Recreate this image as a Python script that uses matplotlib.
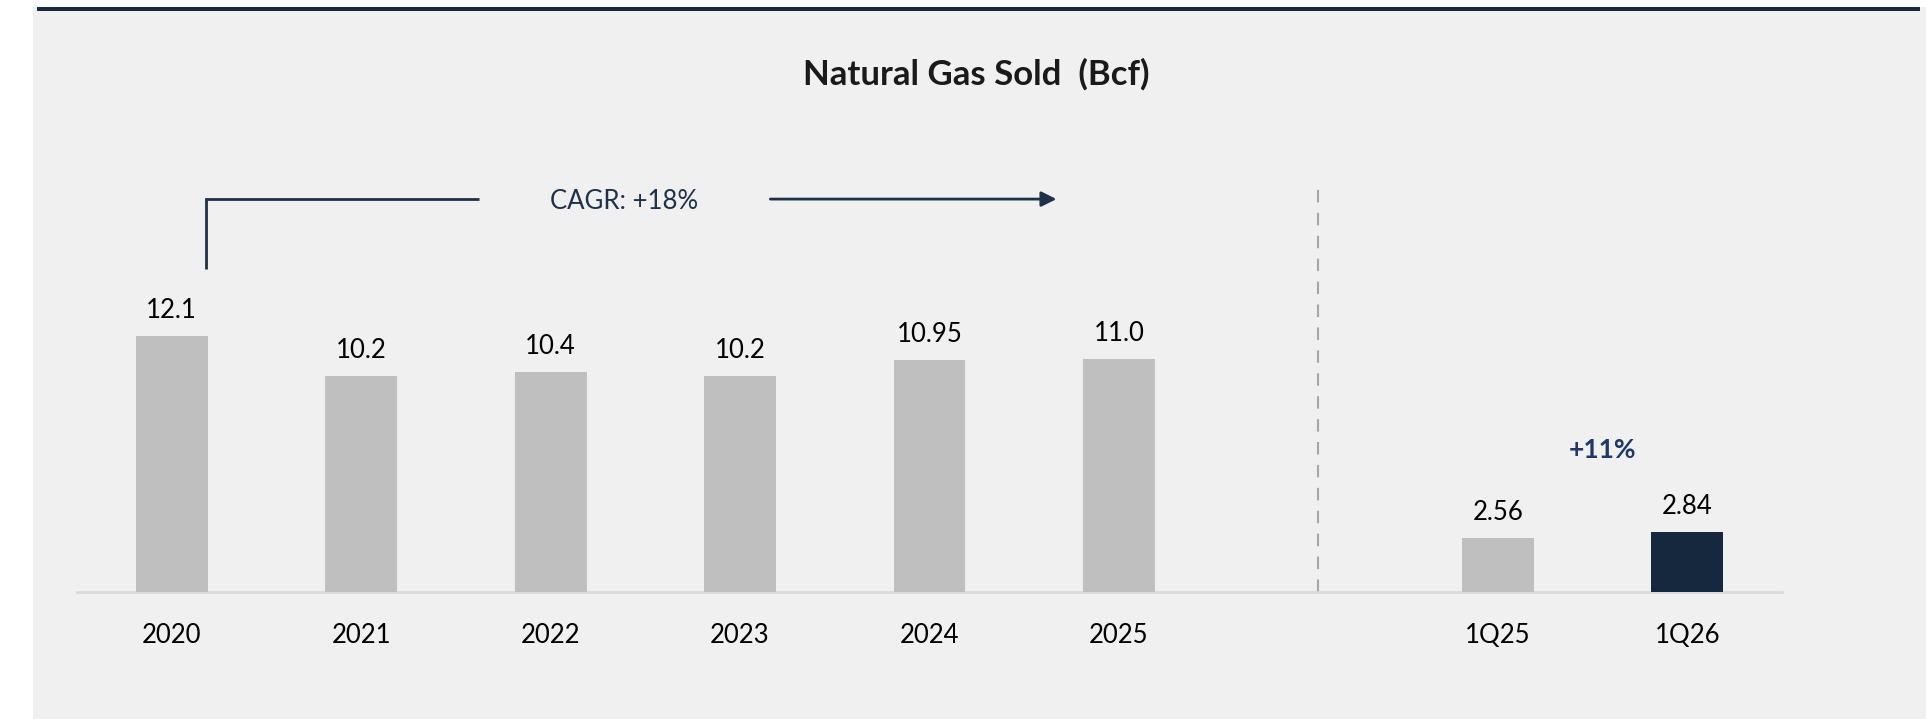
import matplotlib
matplotlib.use("Agg")
import matplotlib.pyplot as plt
from matplotlib.patches import Rectangle

plt.rcParams['font.family'] = ['Lato', 'DejaVu Sans']

categories = ["2020", "2021", "2022", "2023", "2024", "2025", "1Q25", "1Q26"]
values = [12.1, 10.2, 10.4, 10.2, 10.95, 11.0, 2.56, 2.84]
value_labels = ["12.1", "10.2", "10.4", "10.2", "10.95", "11.0", "2.56", "2.84"]
positions = [0, 1, 2, 3, 4, 5, 7, 8]
bar_colors = ["#bfbfbf"] * 7 + ["#15283e"]

title = "Natural Gas Sold  (Bcf)"
cagr_text = "CAGR: +18%"
growth_text = "+11%"

W, H = 1926, 719
fig = plt.figure(figsize=(W / 100, H / 100), dpi=100)
fig.patch.set_facecolor("white")

# background layer
bg = fig.add_axes([0, 0, 1, 1], zorder=-10)
bg.set_xlim(0, W)
bg.set_ylim(H, 0)
bg.axis("off")
bg.add_patch(Rectangle((33, 7), W - 33, H - 7, facecolor="#f0f0f0",
                       edgecolor="none"))
bg.add_patch(Rectangle((37, 7), 1920 - 37, 4, facecolor="#1a2b40",
                       edgecolor="none"))

px_per_unit = 21.17
base_px = 592
ax_left, ax_right = 77, 1782
ax_top = 150
ax = fig.add_axes([ax_left / W, (H - base_px) / H, (ax_right - ax_left) / W,
                   (base_px - ax_top) / H], zorder=5)
ax.set_facecolor("none")
ax.set_xlim(-0.5, 8.5)
ax.set_ylim(0, (base_px - ax_top) / px_per_unit)

ax.bar(positions, values, width=0.38, color=bar_colors, zorder=3)

for p, v, lab in zip(positions, values, value_labels):
    ax.annotate(lab, (p, v), xytext=(0, 18.3), textcoords="offset points",
                ha="center", va="center", fontsize=18.5, color="#000000")

ax.set_xticks(positions)
ax.set_xticklabels(categories, fontsize=18.5, color="#000000")
ax.tick_params(axis="x", length=0, pad=22.3)
ax.set_yticks([])
for s in ["top", "right", "left"]:
    ax.spines[s].set_visible(False)
ax.spines["bottom"].set_color("#d9d9d9")
ax.spines["bottom"].set_linewidth(2)

# divider
ax.plot([6.05, 6.05], [0, 19.13], color="#a6a6a6", lw=1.5,
        linestyle=(0, (6, 5)), zorder=2, clip_on=False)

# CAGR bracket and arrow
navy = "#1f3049"
ax.plot([0.18, 0.18, 1.62], [15.26, 18.56, 18.56], color=navy, lw=2,
        solid_capstyle="butt", solid_joinstyle="miter", clip_on=False)
ax.annotate("", xy=(4.67, 18.56), xytext=(3.16, 18.56),
            arrowprops=dict(arrowstyle="-|>,head_length=0.9,head_width=0.45",
                            color=navy, lw=2, shrinkA=0, shrinkB=0),
            annotation_clip=False)
ax.text(2.39, 18.45, cagr_text, ha="center", va="center", fontsize=18.5,
        color=navy)

ax.text(7.55, 6.7, growth_text, ha="center", va="center", fontsize=19,
        fontweight="bold", color="#1f3864")

fig.text(976 / W, 1 - 74 / H, title, ha="center", va="center", fontsize=25,
         fontweight="bold", color="#1a1a1a")

fig.savefig("out.png", dpi=100, facecolor=fig.get_facecolor())
